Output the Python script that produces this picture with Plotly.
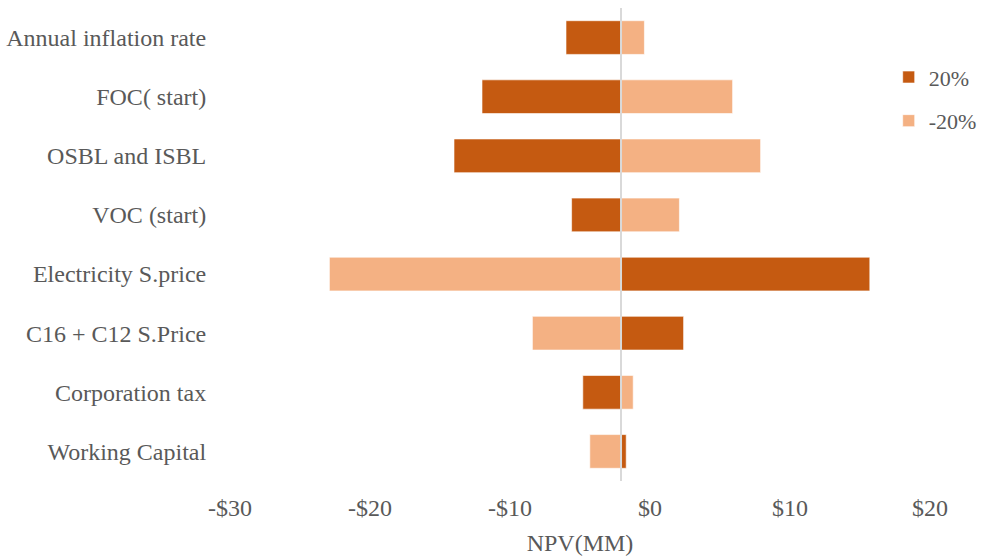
import plotly.graph_objects as go

# Sensitivity of NPV (MM$) to +/-20% changes in each input
categories = [
    "Annual inflation rate",
    "FOC( start)",
    "OSBL and ISBL",
    "VOC (start)",
    "Electricity S.price",
    "C16 + C12 S.Price",
    "Corporation tax",
    "Working Capital",
]
npv_plus20 = [-6.0, -12.0, -14.0, -5.6, 15.7, 2.4, -4.8, -1.7]
npv_minus20 = [-0.4, 5.9, 7.9, 2.1, -22.9, -8.4, -1.2, -4.3]
base_npv = -2.07
tick_values = [-30, -20, -10, 0, 10, 20]
tick_labels = ["-$30", "-$20", "-$10", "$0", "$10", "$20"]

dark = "#C55A11"
light = "#F4B183"
font_family = "Liberation Serif, Times New Roman, serif"
text_color = "#595959"

fig = go.Figure()
fig.add_trace(go.Bar(
    name="20%", y=categories, x=[v - base_npv for v in npv_plus20], base=base_npv,
    orientation="h", width=0.57, legendgroup="a",
    marker=dict(color=dark, line=dict(color="rgba(255,255,255,0.6)", width=1)),
))
fig.add_trace(go.Bar(
    name="-20%", y=categories, x=[v - base_npv for v in npv_minus20], base=base_npv,
    orientation="h", width=0.57, legendgroup="b",
    marker=dict(color=light, line=dict(color="rgba(255,255,255,0.6)", width=1)),
))

# vertical category axis line at the base case
fig.add_shape(type="line", xref="x", yref="paper", x0=base_npv, x1=base_npv,
              y0=0, y1=1, line=dict(color="#D9D9D9", width=2), layer="above")

fig.update_layout(
    width=983, height=556,
    margin=dict(l=230, r=53, t=8, b=75, autoexpand=False),
    paper_bgcolor="white", plot_bgcolor="white",
    barmode="overlay",
    font=dict(family=font_family, size=24, color=text_color),
    showlegend=True,
    legend=dict(x=0.941, y=0.898, xanchor="left", yanchor="top",
                font=dict(size=22, color=text_color), tracegroupgap=12,
                bgcolor="rgba(0,0,0,0)", itemwidth=30),
    xaxis=dict(range=[-30, 20], tickvals=tick_values, ticktext=tick_labels,
               showgrid=False, zeroline=False, showline=False,
               ticks="outside", ticklen=5, tickcolor="rgba(0,0,0,0)",
               title=dict(text="NPV(MM)", standoff=15, font=dict(size=24))),
    yaxis=dict(autorange="reversed", showgrid=False, zeroline=False, showline=False,
               ticks="outside", ticklen=18, tickcolor="rgba(0,0,0,0)"),
)

fig.write_html("out.html")
